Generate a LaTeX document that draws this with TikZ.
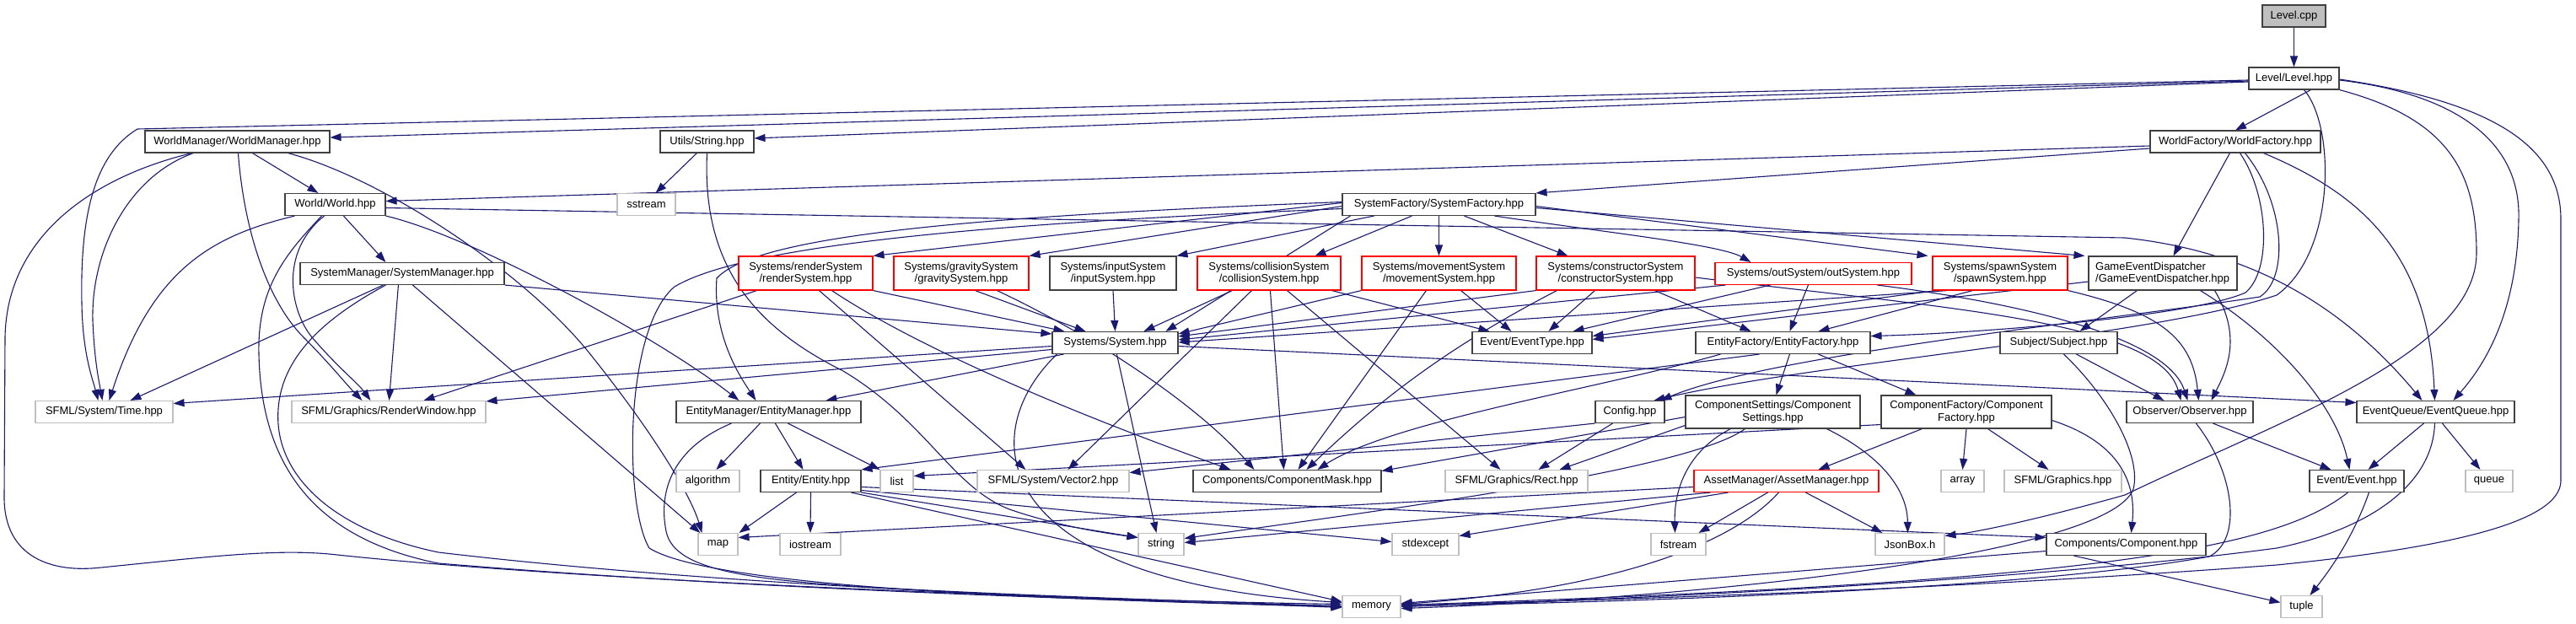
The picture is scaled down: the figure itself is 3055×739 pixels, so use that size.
\documentclass[tikz,border=0pt]{standalone}
\usepackage{fontspec}
\setmainfont{Liberation Sans}
\usetikzlibrary{arrows.meta}
\definecolor{edgec}{HTML}{191970}
\definecolor{bord}{HTML}{404040}
\definecolor{lgray}{HTML}{BFBFBF}
\pgfdeclarelayer{bg}
\pgfsetlayers{bg,main}
\begin{document}
\begin{tikzpicture}[x=1pt,y=-1pt,font=\fontsize{13}{14.3}\selectfont,
  box/.style={draw=bord,line width=1.1pt,fill=white,inner sep=0pt,minimum height=26pt,align=center},
  rbox/.style={box,draw=red},
  gbox/.style={box,draw=lgray},
  tall/.style={minimum height=40pt},
  e/.style={draw=edgec,line width=1.1pt,-{Triangle[length=13pt,width=9pt]}}]
\useasboundingbox (0,0) rectangle (3055,739);
% nodes
\node[box,fill=lgray,minimum width=75pt] (cpp) at (2720.5,19) {Level.cpp};
\node[box,minimum width=107pt] (lvl) at (2720.5,93) {Level/Level.hpp};
\node[box,minimum width=202pt] (wf) at (2651,168) {WorldFactory/WorldFactory.hpp};
\node[box,minimum width=219pt] (wm) at (281.5,168) {WorldManager/WorldManager.hpp};
\node[box,minimum width=111pt] (str) at (838.5,168) {Utils/String.hpp};
\node[gbox,minimum width=69pt] (sstream) at (766.5,242.5) {sstream};
\node[box,minimum width=119pt] (world) at (397.5,242.5) {World/World.hpp};
\node[box,minimum width=229pt] (sf) at (1706.5,242.5) {SystemFactory/SystemFactory.hpp};
\node[box,minimum width=242pt] (sm) at (477,324.5) {SystemManager/SystemManager.hpp};
\node[rbox,tall,minimum width=159pt] (render) at (955.5,324) {Systems/renderSystem\\/renderSystem.hpp};
\node[rbox,tall,minimum width=160pt] (gravity) at (1140,324) {Systems/gravitySystem\\/gravitySystem.hpp};
\node[box,tall,minimum width=150pt] (input) at (1320,324) {Systems/inputSystem\\/inputSystem.hpp};
\node[rbox,tall,minimum width=170pt] (collision) at (1505,324) {Systems/collisionSystem\\/collisionSystem.hpp};
\node[rbox,tall,minimum width=183pt] (movement) at (1706.5,324) {Systems/movementSystem\\/movementSystem.hpp};
\node[rbox,tall,minimum width=188pt] (constructor) at (1916,324) {Systems/constructorSystem\\/constructorSystem.hpp};
\node[rbox,minimum width=233pt] (out) at (2150.5,324.5) {Systems/outSystem/outSystem.hpp};
\node[rbox,tall,minimum width=160pt] (spawn) at (2372,324) {Systems/spawnSystem\\/spawnSystem.hpp};
\node[box,tall,minimum width=176pt,align=left] (ged) at (2565,324) {GameEventDispatcher\hspace*{29pt}\\/GameEventDispatcher.hpp};
\node[box,minimum width=149pt] (sys) at (1322.5,406.5) {Systems/System.hpp};
\node[box,minimum width=142pt] (evtype) at (1817,406.5) {Event/EventType.hpp};
\node[box,minimum width=207pt] (ef) at (2114.5,406.5) {EntityFactory/EntityFactory.hpp};
\node[box,minimum width=139pt] (subject) at (2441.5,406.5) {Subject/Subject.hpp};
\node[gbox,minimum width=163pt] (time) at (123.5,488.5) {SFML/System/Time.hpp};
\node[gbox,minimum width=230pt] (rw) at (461,488.5) {SFML/Graphics/RenderWindow.hpp};
\node[box,minimum width=219pt] (em) at (911.5,488.5) {EntityManager/EntityManager.hpp};
\node[box,minimum width=82pt] (config) at (1933,488.5) {Config.hpp};
\node[box,minimum width=207pt,minimum height=39pt] (csettings) at (2102.5,488.5) {ComponentSettings/Component\\Settings.hpp};
\node[box,minimum width=202pt,minimum height=39pt] (cfactory) at (2332,488.5) {ComponentFactory/Component\\Factory.hpp};
\node[box,minimum width=150pt] (observer) at (2597,488.5) {Observer/Observer.hpp};
\node[box,minimum width=187pt] (eq) at (2888.5,488.5) {EventQueue/EventQueue.hpp};
\node[gbox,minimum width=75pt] (algorithm) at (839.5,570.5) {algorithm};
\node[box,minimum width=119pt] (ent) at (961.5,570.5) {Entity/Entity.hpp};
\node[gbox,minimum width=39pt] (list) at (1063.5,570.5) {list};
\node[gbox,minimum width=180pt] (vec2) at (1249,570.5) {SFML/System/Vector2.hpp};
\node[box,minimum width=223pt] (cmask) at (1526.5,570.5) {Components/ComponentMask.hpp};
\node[gbox,minimum width=169pt] (rect) at (1798.5,570.5) {SFML/Graphics/Rect.hpp};
\node[rbox,minimum width=219pt] (asset) at (2118.5,570.5) {AssetManager/AssetManager.hpp};
\node[gbox,minimum width=51pt] (array) at (2327.5,570.5) {array};
\node[gbox,minimum width=139pt] (graphics) at (2446.5,570.5) {SFML/Graphics.hpp};
\node[box,minimum width=112pt] (event) at (2795,570.5) {Event/Event.hpp};
\node[gbox,minimum width=56pt] (queue) at (2952,570.5) {queue};
\node[gbox,minimum width=47pt] (map) at (851.5,645.5) {map};
\node[gbox,minimum width=72pt] (iostream) at (961,645.5) {iostream};
\node[gbox,minimum width=54pt] (string) at (1377,645.5) {string};
\node[gbox,minimum width=79pt] (stdexcept) at (1690.5,645.5) {stdexcept};
\node[gbox,minimum width=65pt] (fstream) at (1990.5,645.5) {fstream};
\node[gbox,minimum width=82pt] (json) at (2265,645.5) {JsonBox.h};
\node[box,minimum width=189pt] (component) at (2521.5,645.5) {Components/Component.hpp};
\node[gbox,minimum width=69pt] (memory) at (1626.5,719.5) {memory};
\node[gbox,minimum width=49pt] (tuple) at (2729.5,719.5) {tuple};
% edges
\begin{pgfonlayer}{bg}
\fill[white] (0,0) rectangle (3055,739);
\draw[e] (cpp.south) -- (lvl.north);
\draw[e] ([yshift=-3pt]lvl.west) -- ([yshift=5pt]wm.east);
\draw[e] ([yshift=-4pt]lvl.west) -- ([yshift=4pt]str.east);
\draw[e] ([yshift=-2pt]lvl.west) -- (163,153) .. controls (110,185) and (95,260) .. (97,360) .. controls (98,420) and (110,450) .. ([xshift=75pt]time.north west);
\draw[e] ([xshift=74pt]lvl.south west) -- (wf.north);
\draw[e] ([xshift=58pt]wm.south west) .. controls (150,210) and (108,300) .. (110,380) .. controls (112,430) and (118,455) .. ([xshift=80pt]time.north west);
\draw[e] ([xshift=56pt]wm.south west) .. controls (110,210) and (8,280) .. (6,400) -- (5,590) .. controls (5,660) and (60,680) .. (120,673) .. controls (250,660) and (330,650) .. (400,658) .. controls (700,690) and (1300,712) .. ([yshift=3pt]memory.west);
\draw[e] ([xshift=128pt]wm.south west) -- ([xshift=40pt]world.north west);
\draw[e] ([xshift=111pt]wm.south west) .. controls (290,280) and (320,360) .. (360,400) .. controls (390,430) and (410,455) .. ([xshift=84pt]rw.north west);
\draw[e] ([xshift=170pt]wm.south west) .. controls (450,210) and (620,320) .. (700,420) .. controls (780,520) and (820,590) .. ([xshift=5pt]map.north west);
\draw[e] ([xshift=44pt]str.south west) -- ([xshift=46pt]sstream.north west);
\draw[e] (str.south) .. controls (832,320) and (900,390) .. (1000,440) .. controls (1100,500) and (1130,580) .. (1200,605) .. controls (1260,625) and (1310,632) .. ([yshift=8pt]string.west);
\draw[e] ([yshift=-5pt]wf.west) -- ([yshift=4pt]world.east);
\draw[e] ([yshift=-8pt]wf.west) -- (sf.north east);
\draw[e] ([xshift=95pt]wf.south west) -- ([xshift=101pt]ged.north west);
\draw[e] ([xshift=107pt]wf.south west) .. controls (2690,230) and (2695,320) .. (2663,347) .. controls (2600,375) and (2350,395) .. ([yshift=8pt]ef.east);
\draw[e] ([xshift=113pt]wf.south west) .. controls (2710,240) and (2715,330) .. (2680,352) .. controls (2500,380) and (2100,420) .. ([xshift=78pt]config.north west);
\draw[e] ([xshift=66pt]lvl.south west) .. controls (2770,150) and (2770,300) .. (2700,350) .. controls (2550,400) and (2150,430) .. ([xshift=70pt]config.north west);
\draw[e] ([xshift=135pt]wf.south west) .. controls (2800,230) and (2880,300) .. ([xshift=93pt]eq.north west);
\draw[e] ([yshift=-2pt]lvl.east) .. controls (2900,110) and (2990,160) .. (2987,260) .. controls (2985,380) and (2940,440) .. ([xshift=115pt]eq.north west);
\draw[e] ([yshift=-1pt]lvl.east) .. controls (2950,120) and (3037,170) .. (3037,260) -- (3037,570) .. controls (3037,620) and (2900,650) .. (2700,670) .. controls (2300,700) and (1900,712) .. ([yshift=2pt]memory.east);
\draw[e] (lvl.south east) .. controls (2900,140) and (2937,200) .. (2937,300) .. controls (2937,420) and (2700,500) .. (2520,587) .. controls (2420,615) and (2350,630) .. ([yshift=10pt]json.east);
\draw[e] ([xshift=70pt]world.south west) -- ([xshift=102pt]sm.north west);
\draw[e] ([xshift=12pt]world.south west) .. controls (250,280) and (180,320) .. ([xshift=88pt]time.north west);
\draw[e] ([xshift=44pt]world.south west) .. controls (340,300) and (305,340) .. (307,420) .. controls (310,560) and (380,640) .. (520,668) .. controls (900,700) and (1400,715) .. ([yshift=1pt]memory.west);
\draw[e] ([xshift=47pt]world.south west) .. controls (330,300) and (345,370) .. (370,400) .. controls (400,435) and (425,455) .. ([xshift=94pt]rw.north west);
\draw[e] (world.south east) .. controls (560,280) and (780,400) .. ([xshift=75pt]em.north west);
\draw[e] ([yshift=-4pt]world.east) -- (2520,282) .. controls (2640,295) and (2760,340) .. ([xshift=78pt]eq.north west);
\draw[e] ([yshift=2pt]sf.west) -- (render.north east);
\draw[e] ([yshift=-2pt]sf.west) -- (gravity.north east);
\draw[e] ([xshift=38pt]sf.south west) -- (input.north east);
\draw[e] ([xshift=83pt]sf.south west) -- ([xshift=140pt]collision.north west);
\draw[e] (sf.south) -- (movement.north);
\draw[e] ([xshift=145pt]sf.south west) -- ([xshift=38pt]constructor.north west);
\draw[e] ([xshift=181pt]sf.south west) .. controls (1900,275) and (2040,290) .. ([xshift=43pt]out.north west);
\draw[e] ([yshift=-2pt]sf.east) -- ([xshift=-5pt]spawn.north west);
\draw[e] ([yshift=-4pt]sf.east) -- ([xshift=-4pt]ged.north west);
\draw[e] ([xshift=10pt]sf.south west) -- ([xshift=135pt]sys.north west);
\draw[e] ([yshift=3pt]sf.west) .. controls (1200,255) and (900,275) .. (850,330) .. controls (845,400) and (880,450) .. ([xshift=95pt]em.north west);
\draw[e] ([yshift=-5pt]sf.west) .. controls (1300,260) and (900,280) .. (800,340) .. controls (740,390) and (740,600) .. (770,650) .. controls (850,700) and (1300,712) .. (memory.west);
\draw[e] (sm.south east) -- ([yshift=-3pt]sys.north west);
\draw[e] ([xshift=99pt]sm.south west) -- ([xshift=113pt]time.north west);
\draw[e] ([xshift=102pt]sm.south west) .. controls (380,380) and (325,430) .. (330,503) .. controls (335,570) and (400,630) .. (520,655) .. controls (900,700) and (1400,713) .. ([yshift=-1pt]memory.west);
\draw[e] ([xshift=117pt]sm.south west) -- ([xshift=116pt]rw.north west);
\draw[e] ([xshift=134pt]sm.south west) -- ([xshift=3pt]map.north west);
\draw[e] (render.south east) -- ([xshift=15pt]sys.north west);
\draw[e] ([xshift=22pt]render.south west) -- ([xshift=157pt]rw.north west);
\draw[e] ([xshift=96pt]render.south west) -- ([xshift=58pt]vec2.north west);
\draw[e] ([xshift=111pt]render.south west) .. controls (1100,420) and (1300,500) .. ([xshift=45pt]cmask.north west);
\draw[e] ([xshift=97pt]gravity.south west) -- ([xshift=40pt]sys.north west);
\draw[e] ([xshift=123pt]gravity.south west) .. controls (1300,400) and (1420,480) .. ([xshift=73pt]cmask.north west);
\draw[e] (input.south) -- (sys.north);
\draw[e] ([xshift=42pt]collision.south west) -- ([xshift=109pt]sys.north west);
\draw[e] ([xshift=65pt]collision.south west) -- ([xshift=108pt]vec2.north west);
\draw[e] ([xshift=87pt]collision.south west) -- ([xshift=108pt]cmask.north west);
\draw[e] ([xshift=107pt]collision.south west) -- ([xshift=66pt]rect.north west);
\draw[e] ([xshift=160pt]collision.south west) -- ([xshift=21pt]evtype.north west);
\draw[e] (movement.south west) -- ([yshift=-3pt]sys.north east);
\draw[e] ([xshift=77pt]movement.south west) -- ([xshift=125pt]cmask.north west);
\draw[e] ([xshift=118pt]movement.south west) -- ([xshift=47pt]evtype.north west);
\draw[e] (constructor.south west) -- ([yshift=-6pt]sys.north east);
\draw[e] ([xshift=25pt]constructor.south west) .. controls (1700,420) and (1620,490) .. ([xshift=135pt]cmask.north west);
\draw[e] ([xshift=70pt]constructor.south west) -- ([xshift=91pt]evtype.north west);
\draw[e] ([xshift=141pt]constructor.south west) -- ([xshift=66pt]ef.north west);
\draw[e] ([yshift=-5pt]constructor.east) .. controls (2300,365) and (2560,380) .. ([xshift=65pt]observer.north west);
\draw[e] ([xshift=13pt]out.south west) -- ([yshift=-10pt]sys.north east);
\draw[e] ([xshift=66pt]out.south west) -- ([xshift=120pt]evtype.north west);
\draw[e] ([xshift=111pt]out.south west) -- ([xshift=112pt]ef.north west);
\draw[e] ([xshift=193pt]out.south west) .. controls (2400,360) and (2570,400) .. ([xshift=73pt]observer.north west);
\draw[e] ([xshift=18pt]spawn.south west) -- ([yshift=-13pt]sys.north east);
\draw[e] ([xshift=48pt]spawn.south west) -- ([xshift=146pt]ef.north west);
\draw[e] ([xshift=5pt]spawn.south west) -- ([yshift=8pt]evtype.east);
\draw[e] (spawn.south east) .. controls (2560,370) and (2600,400) .. ([xshift=86pt]observer.north west);
\draw[e] ([xshift=58pt]ged.south west) -- ([xshift=95pt]subject.north west);
\draw[e] ([xshift=133pt]ged.south west) .. controls (2700,400) and (2770,480) .. ([xshift=48pt]event.north west);
\draw[e] ([yshift=-10pt]ged.west) -- ([yshift=4pt]evtype.east);
\draw[e] ([xshift=150pt]ged.south west) .. controls (2660,400) and (2640,440) .. ([xshift=101pt]observer.north west);
\draw[e] ([yshift=-4pt]sys.west) -- ([yshift=10pt]time.east);
\draw[e] ([yshift=-8pt]sys.west) -- ([yshift=-1pt]rw.north east);
\draw[e] ([xshift=14pt]sys.south west) -- ([xshift=178pt]em.north west);
\draw[e] ([xshift=77pt]sys.south west) -- ([xshift=22pt]string.north west);
\draw[e] ([xshift=6pt]sys.south west) .. controls (1150,520) and (1180,690) .. ([yshift=5pt]memory.west);
\draw[e] ([yshift=-4pt]sys.east) -- ([yshift=11pt]eq.west);
\draw[e] ([xshift=76pt]ef.south west) -- (ent.north east);
\draw[e] ([xshift=112pt]ef.south west) -- ([xshift=108pt]csettings.north west);
\draw[e] ([xshift=146pt]ef.south west) -- ([xshift=42pt]cfactory.north west);
\draw[e] ([xshift=30pt]ef.south west) .. controls (1900,460) and (1650,500) .. ([xshift=148pt]cmask.north west);
\draw[e] ([xshift=91pt]subject.south west) -- ([xshift=45pt]observer.north west);
\draw[e] ([xshift=76pt]subject.south west) .. controls (2500,470) and (2540,540) .. (2530,580) .. controls (2500,660) and (2000,710) .. ([yshift=-2pt]memory.east);
\draw[e] ([xshift=100pt]em.south west) -- ([xshift=48pt]algorithm.north west);
\draw[e] ([xshift=118pt]em.south west) -- ([xshift=51pt]ent.north west);
\draw[e] ([xshift=133pt]em.south west) -- (list.north west);
\draw[e] ([xshift=66pt]em.south west) .. controls (800,530) and (780,580) .. (790,630) .. controls (800,680) and (900,690) .. (1100,700) .. controls (1300,710) and (1500,715) .. (memory.west);
\draw[e] ([xshift=21pt]config.south west) -- ([xshift=111pt]rect.north west);
\draw[e] (config.south west) -- ([yshift=10pt]vec2.east);
\draw[e] ([yshift=-16pt]csettings.west) -- ([xshift=136pt]rect.north west);
\draw[e] ([xshift=168pt]csettings.south west) .. controls (2230,540) and (2262,580) .. ([xshift=39pt]json.north west);
\draw[e] ([xshift=54pt]csettings.south west) .. controls (2010,530) and (1985,570) .. ([xshift=29pt]fstream.north west);
\draw[e] ([xshift=71pt]csettings.south west) .. controls (2000,560) and (1600,610) .. ([yshift=7pt]string.east);
\draw[e] ([yshift=-6pt]csettings.west) -- ([yshift=12pt]cmask.east);
\draw[e] ([xshift=49pt]cfactory.south west) -- ([xshift=148pt]asset.north west);
\draw[e] (cfactory.south) -- (array.north);
\draw[e] ([xshift=127pt]cfactory.south west) -- ([xshift=53pt]graphics.north west);
\draw[e] ([yshift=-10pt]cfactory.east) .. controls (2500,520) and (2535,560) .. ([xshift=101pt]component.north west);
\draw[e] ([yshift=-15pt]cfactory.west) -- ([yshift=6pt]list.east);
\draw[e] ([xshift=103pt]observer.south west) -- ([xshift=26pt]event.north west);
\draw[e] ([xshift=83pt]observer.south west) .. controls (2650,560) and (2660,640) .. (2620,660) .. controls (2400,700) and (1900,715) .. ([yshift=1pt]memory.east);
\draw[e] ([xshift=80pt]eq.south west) -- ([xshift=70pt]event.north west);
\draw[e] ([xshift=102pt]eq.south west) -- ([xshift=18pt]queue.north west);
\draw[e] ([xshift=93pt]eq.south west) .. controls (2885,580) and (2800,630) .. (2700,650) .. controls (2400,690) and (1900,712) .. (memory.east);
\draw[e] ([xshift=43pt]ent.south west) -- ([xshift=49pt]map.north west);
\draw[e] (ent.south) -- (iostream.north);
\draw[e] (ent.south east) -- ([yshift=8pt]string.west);
\draw[e] ([yshift=-11pt]ent.east) -- ([yshift=3pt]stdexcept.west);
\draw[e] ([yshift=-7pt]ent.east) -- ([yshift=8pt]component.west);
\draw[e] ([xshift=108pt]ent.south west) -- ([yshift=6pt]memory.west);
\draw[e] ([xshift=88pt]asset.south west) -- ([xshift=57pt]fstream.north west);
\draw[e] ([xshift=133pt]asset.south west) -- ([xshift=9pt]json.north west);
\draw[e] ([xshift=101pt]asset.south west) .. controls (2050,650) and (1900,700) .. ([yshift=3pt]memory.east);
\draw[e] ([yshift=-7pt]asset.west) -- ([yshift=8pt]map.east);
\draw[e] ([xshift=41pt]asset.south west) -- ([yshift=10pt]stdexcept.east);
\draw[e] ([xshift=20pt]asset.south west) -- ([yshift=2pt]string.east);
\draw[e] ([xshift=71pt]event.south west) .. controls (2790,640) and (2760,680) .. ([xshift=35pt]tuple.north west);
\draw[e] ([xshift=46pt]event.south west) .. controls (2700,650) and (2500,690) .. ([yshift=2pt]memory.east);
\draw[e] ([xshift=33pt]component.south west) -- ([yshift=5pt]tuple.west);
\draw[e] ([yshift=-8pt]component.west) -- ([yshift=4pt]memory.east);
\end{pgfonlayer}
\end{tikzpicture}
\end{document}
